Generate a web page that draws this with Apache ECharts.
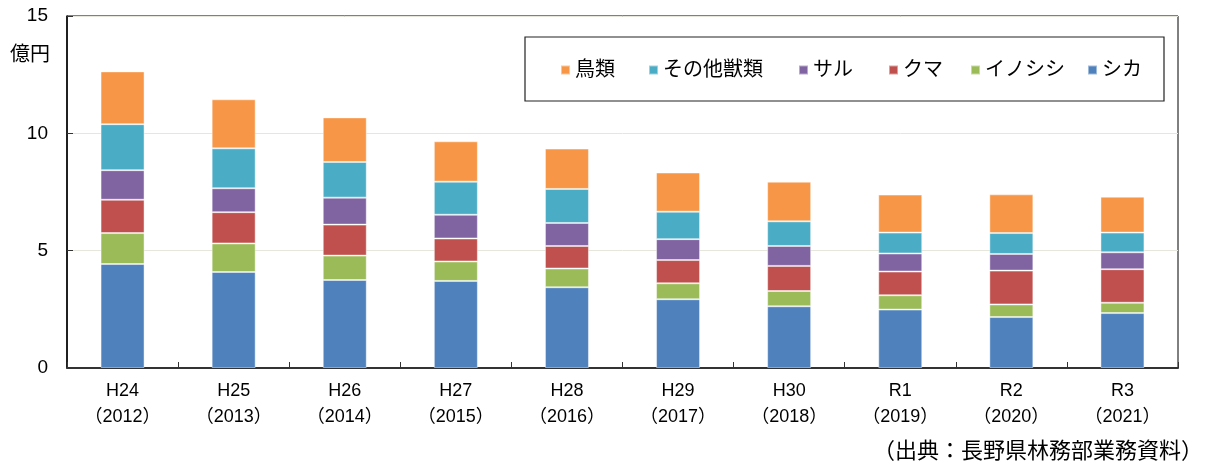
<!DOCTYPE html>
<html>
<head>
<meta charset="utf-8">
<script src="https://cdn.jsdelivr.net/npm/echarts@6/dist/echarts.min.js"></script>
<style>html,body{margin:0;padding:0;background:#fff}#c{width:1211px;height:468px}</style>
</head>
<body>
<div id="c"></div>
<script>
var eras = ['H24','H25','H26','H27','H28','H29','H30','R1','R2','R3'];
var years = ['2012','2013','2014','2015','2016','2017','2018','2019','2020','2021'];
var shika     = [4.43, 4.09, 3.75, 3.71, 3.44, 2.93, 2.63, 2.49, 2.17, 2.34];
var inoshishi = [1.32, 1.22, 1.04, 0.83, 0.80, 0.68, 0.65, 0.61, 0.54, 0.44];
var kuma      = [1.42, 1.33, 1.32, 0.98, 0.96, 0.99, 1.07, 1.01, 1.44, 1.43];
var saru      = [1.26, 1.02, 1.15, 1.01, 0.98, 0.89, 0.85, 0.77, 0.71, 0.72];
var sonota    = [1.96, 1.70, 1.52, 1.41, 1.45, 1.17, 1.05, 0.89, 0.89, 0.84];
var chorui    = [2.25, 2.09, 1.90, 1.72, 1.72, 1.67, 1.69, 1.62, 1.65, 1.53];
var yTicks = [0, 5, 10, 15];

var FONT = "'Liberation Sans', 'Noto Sans CJK JP', sans-serif";
var categories = eras.map(function (e, i) { return e + '\n（' + years[i] + '）'; });

var seriesDefs = [
  {name: 'シカ', data: shika, color: '#4F81BD'},
  {name: 'イノシシ', data: inoshishi, color: '#9BBB59'},
  {name: 'クマ', data: kuma, color: '#C0504D'},
  {name: 'サル', data: saru, color: '#8064A2'},
  {name: 'その他獣類', data: sonota, color: '#4BACC6'},
  {name: '鳥類', data: chorui, color: '#F79646'}
];
var legendOrder = ['鳥類','その他獣類','サル','クマ','イノシシ','シカ'];
var legendLeft = [560, 648, 798, 888, 970, 1087];

var chart = echarts.init(document.getElementById('c'), null, {renderer: 'canvas'});
chart.setOption({
  animation: false,
  textStyle: {fontFamily: FONT},
  grid: {left: 67, right: 33, top: 16, bottom: 100, show: true, borderColor: '#000', borderWidth: 1, containLabel: false},
  legend: legendOrder.map(function (n, i) {
    return {
      data: [n], left: legendLeft[i], top: 60, padding: 0,
      itemWidth: 9, itemHeight: 9, icon: 'rect',
      textStyle: {fontSize: 20, color: '#000', fontFamily: FONT}
    };
  }),
  xAxis: {
    type: 'category', data: categories,
    axisLine: {lineStyle: {color: '#333', width: 2}},
    axisTick: {show: true, inside: true, length: 6, lineStyle: {color: '#333', width: 1}},
    axisLabel: {fontSize: 18, color: '#000', lineHeight: 26, margin: 10, fontFamily: FONT}
  },
  yAxis: {
    type: 'value', min: yTicks[0], max: yTicks[yTicks.length - 1], interval: 5,
    axisLine: {show: true, lineStyle: {color: '#000', width: 1.5}},
    axisTick: {show: true, inside: true, length: 6, lineStyle: {color: '#333'}},
    axisLabel: {fontSize: 19, color: '#000', margin: 19, fontFamily: FONT},
    splitLine: {show: true, lineStyle: {color: '#e6e6dc', width: 1}}
  },
  series: seriesDefs.map(function (s) {
    return {
      name: s.name, type: 'bar', stack: 'total', data: s.data, barWidth: 44,
      itemStyle: {color: s.color, borderColor: 'rgba(255,255,255,0.45)', borderWidth: 1}
    };
  }),
  graphic: [
    {type: 'text', left: 10, top: 45, style: {text: '億円', fontSize: 20, fill: '#000', fontFamily: FONT}},
    {type: 'rect', shape: {x: 525, y: 37, width: 639, height: 64}, style: {fill: 'none', stroke: '#222', lineWidth: 1.2}, z: 1},
    {type: 'text', right: 8, top: 441, style: {text: '（出典：長野県林務部業務資料）', fontSize: 22, fill: '#000', fontFamily: FONT}}
  ]
});
</script>
</body>
</html>
